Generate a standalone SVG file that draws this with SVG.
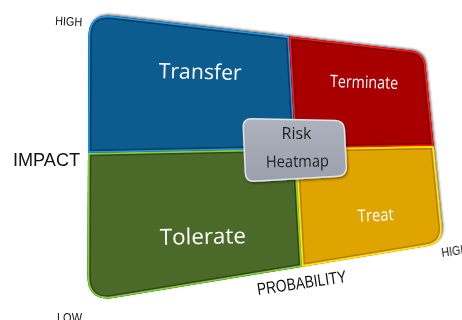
<svg xmlns="http://www.w3.org/2000/svg" xmlns:xlink="http://www.w3.org/1999/xlink" width="462" height="320" viewBox="0 0 462 320">
  <defs>
    <style>
      .axis { font-family: "Liberation Sans", Arial, sans-serif; fill: #111; }
      .qlabel { font-family: "Open Sans", "Noto Sans", sans-serif; fill: #ffffff; text-anchor: middle; }
      .boxlabel { font-family: "Open Sans", "Noto Sans", sans-serif; fill: #1e1e1e; text-anchor: middle; }
      .bevel { fill: none; stroke-linejoin: round; }
    </style>
    <!-- quadrant outlines of the skewed matrix -->
    <path id="p-transfer" d="M112.3,16.1 L289,36.5 L295.4,148.8 L88,153 L88.5,37 Q88.5,13.3 112.3,16.1 Z"/>
    <path id="p-terminate" d="M289,36.5 L410,50.5 Q424.2,52.1 425.6,66 L433.6,146 L295.4,148.8 Z"/>
    <path id="p-treat" d="M295.4,148.8 L433.6,146 L441.6,226 Q443.3,243.5 426.3,246.3 L302,266.8 Z"/>
    <path id="p-tolerate" d="M88,153 L295.4,148.8 L302,266.8 L114,297.8 Q87.5,302 87.5,276 Z"/>
    <clipPath id="c-transfer"><use xlink:href="#p-transfer"/></clipPath>
    <clipPath id="c-terminate"><use xlink:href="#p-terminate"/></clipPath>
    <clipPath id="c-treat"><use xlink:href="#p-treat"/></clipPath>
    <clipPath id="c-tolerate"><use xlink:href="#p-tolerate"/></clipPath>
    <filter id="edgeShadow" x="-10%" y="-10%" width="120%" height="120%">
      <feDropShadow dx="1.2" dy="-1.2" stdDeviation="1" flood-color="#000" flood-opacity="0.55"/>
    </filter>
    <filter id="boxShadow" x="-10%" y="-10%" width="125%" height="130%">
      <feDropShadow dx="1" dy="1.5" stdDeviation="1.2" flood-color="#000" flood-opacity="0.45"/>
    </filter>
    <linearGradient id="boxFill" x1="0" y1="0" x2="0" y2="1">
      <stop offset="0" stop-color="#adb2bd"/>
      <stop offset="1" stop-color="#9aa0ac"/>
    </linearGradient>
  </defs>

  <!-- matrix quadrants -->
  <g id="matrix" filter="url(#edgeShadow)">
    <g id="q-transfer">
      <use xlink:href="#p-transfer" fill="#0a5b8f"/>
      <g clip-path="url(#c-transfer)">
        <use xlink:href="#p-transfer" class="bevel" stroke="#053b5e" stroke-width="6.5"/>
        <use xlink:href="#p-transfer" class="bevel" stroke="#2196e6" stroke-width="3.5"/>
      </g>
      <text class="qlabel" x="200" y="79" font-size="21" textLength="83" lengthAdjust="spacingAndGlyphs" transform="rotate(1.5 200 79)">Transfer</text>
    </g>
    <g id="q-terminate">
      <use xlink:href="#p-terminate" fill="#a80000"/>
      <g clip-path="url(#c-terminate)">
        <use xlink:href="#p-terminate" class="bevel" stroke="#760000" stroke-width="6.5"/>
        <use xlink:href="#p-terminate" class="bevel" stroke="#ff1414" stroke-width="3.5"/>
      </g>
      <text class="qlabel" x="364" y="88" font-size="17" textLength="68" lengthAdjust="spacingAndGlyphs" transform="rotate(1.5 364 88)">Terminate</text>
    </g>
    <g id="q-tolerate">
      <use xlink:href="#p-tolerate" fill="#4c6a2b"/>
      <g clip-path="url(#c-tolerate)">
        <use xlink:href="#p-tolerate" class="bevel" stroke="#30461a" stroke-width="6.5"/>
        <use xlink:href="#p-tolerate" class="bevel" stroke="#80cf3c" stroke-width="3.5"/>
      </g>
      <text class="qlabel" x="203" y="244" font-size="22" textLength="86" lengthAdjust="spacingAndGlyphs" transform="rotate(-1 203 244)">Tolerate</text>
    </g>
    <g id="q-treat">
      <use xlink:href="#p-treat" fill="#e0a400"/>
      <g clip-path="url(#c-treat)">
        <use xlink:href="#p-treat" class="bevel" stroke="#b07f00" stroke-width="6.5"/>
        <use xlink:href="#p-treat" class="bevel" stroke="#ffe600" stroke-width="3.5"/>
      </g>
      <text class="qlabel" x="376" y="221" font-size="17" textLength="36" lengthAdjust="spacingAndGlyphs" transform="rotate(-3 376 221)">Treat</text>
    </g>
  </g>

  <!-- centre badge -->
  <g id="node-risk-heatmap" filter="url(#boxShadow)">
    <path d="M252,118.7 L335,120.4 Q344,120.6 344.4,129.5 L346.3,167 Q346.6,175.6 337.6,176.3 L254.5,181.2 Q245.6,181.7 245.3,172.8 L243.3,127.5 Q243,118.5 252,118.7 Z" fill="url(#boxFill)" stroke="#e2e5ea" stroke-width="1.5"/>
    <text class="boxlabel" x="296.5" y="139" font-size="16.5" textLength="30" lengthAdjust="spacingAndGlyphs">Risk</text>
    <text class="boxlabel" x="297.5" y="167" font-size="16.5" textLength="63" lengthAdjust="spacingAndGlyphs" transform="rotate(-1 297.5 167)">Heatmap</text>
  </g>

  <!-- axis captions -->
  <g id="axis-labels">
    <text class="axis" x="55" y="25" font-size="12.5" textLength="27" lengthAdjust="spacingAndGlyphs" transform="rotate(3 55 25)">HIGH</text>
    <text class="axis" x="13" y="166" font-size="19" textLength="67" lengthAdjust="spacingAndGlyphs">IMPACT</text>
    <text class="axis" x="57" y="322" font-size="13" textLength="25" lengthAdjust="spacingAndGlyphs">LOW</text>
    <text class="axis" x="258" y="295" font-size="17" textLength="90" lengthAdjust="spacingAndGlyphs" transform="rotate(-8.3 258 295)">PROBABILITY</text>
    <text class="axis" x="442" y="257" font-size="12.5" textLength="27" lengthAdjust="spacingAndGlyphs" transform="rotate(-8 442 257)">HIGH</text>
  </g>
</svg>
